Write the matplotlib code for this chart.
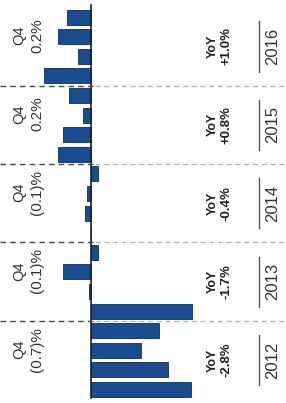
import numpy as np
import matplotlib
matplotlib.use("Agg")
import matplotlib.pyplot as plt
from matplotlib import transforms

# Data (quarterly change, %), page is rotated 90 degrees
years = ["2012", "2013", "2014", "2015", "2016"]
quarterly = [
    [-1.03, -0.80, -0.52, -0.70],
    [-1.04, 0.02, 0.29, -0.08],
    [0.00, 0.06, 0.04, -0.08],
    [0.34, 0.29, 0.08, 0.22],
    [0.48, 0.13, 0.34, 0.24],
]
q4_labels = ["(0.7)%", "(0.1)%", "(0.1)%", "0.2%", "0.2%"]
yoy_labels = ["-2.8%", "-1.7%", "-0.4%", "+0.8%", "+1.0%"]

plt.rcParams["font.family"] = ["Liberation Sans", "DejaVu Sans"]

W, H = 286, 403
fig = plt.figure(figsize=(W / 100, H / 100), dpi=100)
ax = fig.add_axes([0, 0, 1, 1])
ax.axis("off")

vals = np.array(quarterly).ravel()
pos = np.arange(len(vals))
ax.barh(pos, vals, height=0.76, color="#1a4c8e", edgecolor="#0b2c5c", linewidth=0.6)

# positive to the left, negative to the right (rotated page)
ax.set_xlim(0.935, -2.013)
ax.set_ylim(-0.69, 19.87)

ax.plot([0, 0], [-0.45, 19.6], color="#15203a", lw=1.2)

# x in pixels, y in data units
tr = transforms.blended_transform_factory(ax.transAxes, ax.transData)

# year separators
for k in range(1, len(years)):
    yb = 4 * k - 0.5
    ax.plot([0.0, 95 / W], [yb, yb], transform=tr, color="#444444", lw=1.0, ls=(0, (4, 3)))
    ax.plot([95 / W, 1.0], [yb, yb], transform=tr, color="#b0b0b0", lw=0.9, ls=(0, (4, 3)))

for k, yr in enumerate(years):
    yc = 4 * k + 1.5
    ax.text(19 / W, yc + 0.55, "Q4", transform=tr, rotation=90, ha="center", va="center",
            fontsize=10.5, color="#333333")
    ax.text(37 / W, yc + 0.55, q4_labels[k], transform=tr, rotation=90, ha="center", va="center",
            fontsize=11, color="#333333")
    ax.text(213 / W, yc, "YoY", transform=tr, rotation=90, ha="center", va="center",
            fontsize=9, fontweight="bold", color="#222222")
    ax.text(226 / W, yc, yoy_labels[k], transform=tr, rotation=90, ha="center", va="center",
            fontsize=9.5, fontweight="bold", color="#222222")
    ax.plot([259 / W, 259 / W], [yc - 1.28, yc + 1.28], transform=tr, color="#555555", lw=1.0)
    ax.text(273 / W, yc, yr, transform=tr, rotation=90, ha="center", va="center",
            fontsize=12, color="#333333")

fig.savefig("out.png", dpi=100)
